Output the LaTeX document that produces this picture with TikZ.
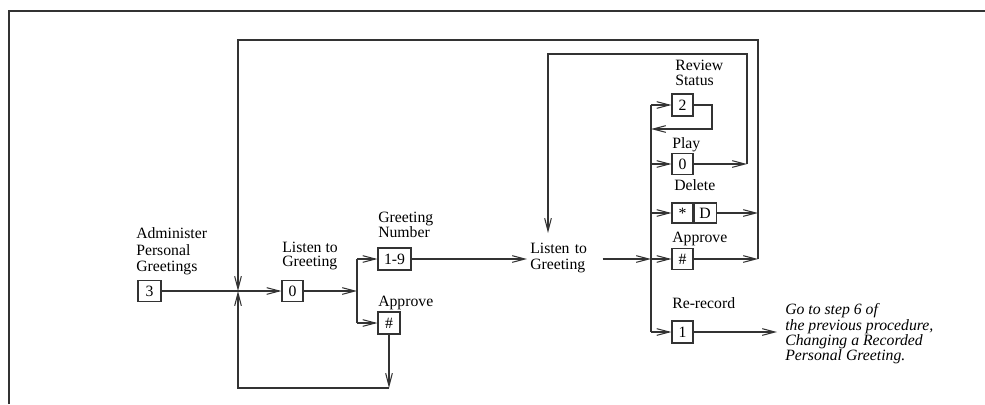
\documentclass[tikz,border=0pt]{standalone}
\usepackage{fontspec}
\setmainfont{Liberation Serif}
\usetikzlibrary{arrows.meta}
\newcommand\lblfont[1]{\fontsize{11.8pt}{#1}\selectfont\lineskiplimit=-100pt\relax}
\begin{document}
\begin{tikzpicture}[x=0.75pt,y=-0.75pt,
  ln/.style={draw=black!80, line width=0.8pt},
  arr/.style={ln, -{Straight Barb[length=9.5pt,width=5pt]}},
  box/.style={draw=black!80, line width=0.8pt, inner sep=0pt,
    minimum width=15.75pt, minimum height=15.75pt, font=\lblfont{14pt}},
  lbl/.style={inner sep=0pt, align=left},
]
\useasboundingbox (0,0) rectangle (985,404);
% frame
\draw[ln] (9,404) -- (9,11) -- (985,11);

% coordinates
\coordinate (cross) at (238,291);
\coordinate (bigL) at (238,40);
\coordinate (bigR) at (758,40);
\coordinate (bot) at (238,388);
\coordinate (j1) at (357,291);
\coordinate (inL) at (548,54);
\coordinate (inR) at (747,54);
\coordinate (lgin) at (548,233);
\coordinate (bus) at (651,0);
\coordinate (busA) at (651,259);
\coordinate (sl) at (712,129);

% boxes
\node[box, minimum width=17.25pt] (b3) at (149.5,291) {3};
\node[box] (b0a) at (292.5,291) {0};
\node[box, minimum width=24.75pt, minimum height=16.5pt] (b19) at (394.5,259) {1-9};
\node[box, minimum width=16.5pt, minimum height=16.5pt] (bapp1) at (389,323) {\#};
\node[box, minimum height=16.5pt] (b2) at (682.5,105) {2};
\node[box] (b0b) at (682.5,164) {0};
\node[box, minimum height=15pt] (bstar) at (682.5,213) {*};
\node[box, minimum height=15pt, minimum width=16.5pt, anchor=west] (bD) at (bstar.east) {D};
\node[box] (bapp2) at (682.5,259) {\#};
\node[box, minimum height=16.5pt] (b1) at (682.5,332) {1};

% labels
\node[lbl, anchor=west, font=\lblfont{12.4pt}] (ladm) at (136,251.4) {Administer\\Personal\\Greetings};
\node[lbl, anchor=west, font=\lblfont{10.6pt}] (llg1) at (282,256.4) {Listen to\\Greeting};
\node[lbl, anchor=west, font=\lblfont{11pt}] (lgn) at (378,224.6) {Greeting\\Number};
\node[lbl, anchor=base west, font=\lblfont{14pt}] (lap1) at (378,306.6) {Approve};
\node[lbl, anchor=west, font=\lblfont{12pt}, inner xsep=2.25pt, text width=51.75pt] (lg2) at (527,257.9) {Listen to\\Greeting};
\node[lbl, anchor=west, font=\lblfont{11.25pt}] (lrev) at (675,72.7) {Review\\Status};
\node[lbl, anchor=base west, font=\lblfont{14pt}] (lplay) at (672,148.6) {Play};
\node[lbl, anchor=base west, font=\lblfont{14pt}] (ldel) at (674,190.6) {Delete};
\node[lbl, anchor=base west, font=\lblfont{14pt}] (lap2) at (672,242.6) {Approve};
\node[lbl, anchor=base west, font=\lblfont{14pt}] (lrr) at (672,308.6) {Re-record};
\node[lbl, anchor=west, inner xsep=6pt, font={\lblfont{11.6pt}\itshape}] (goto) at (777,333.9)
  {Go to step 6 of\\the previous procedure,\\Changing a Recorded\\Personal Greeting.};

% main line
\draw[arr] (b3.east) -- (b0a.west);
\draw[arr] (b0a.east) -- (j1);
\draw[ln] (j1 |- b19.west) -- (j1 |- bapp1.west);
\draw[arr] (j1 |- b19.west) -- (b19.west);
\draw[arr] (j1 |- bapp1.west) -- (bapp1.west);
% bottom loop
\draw[arr] (bapp1.south) -- (bapp1.south |- bot);
\draw[arr] (bapp1.south |- bot) -- (bot) -- (cross);
% to second listen
\draw[arr] (b19.east) -- (b19.east -| lg2.west);
\draw[arr] (lg2.east |- busA) -- (busA);
% bus
\draw[ln] (bus |- b2.west) -- (bus |- b1.west);
\draw[arr] (bus |- b2.west) -- (b2.west);
\draw[arr] (bus |- b0b.west) -- (b0b.west);
\draw[arr] (bus |- bstar.west) -- (bstar.west);
\draw[arr] (busA) -- (bapp2.west);
\draw[arr] (bus |- b1.west) -- (b1.west);
% self loop
\draw[arr] (b2.east) -| (sl) -- (bus |- sl);
% play loop
\draw[arr] (b0b.east) -- (inR |- b0b.east);
\draw[arr] (inR |- b0b.east) -- (inR) -- (inL) -- (lgin);
% delete / approve to big loop
\draw[arr] (bD.east) -- (bigR |- bD.east);
\draw[arr] (bapp2.east) -- (bigR |- bapp2.east);
\draw[arr] (bigR |- bapp2.east) -- (bigR) -- (bigL) -- (cross);
% re-record
\draw[arr] (b1.east) -- (b1.east -| goto.west);
\end{tikzpicture}
\end{document}
